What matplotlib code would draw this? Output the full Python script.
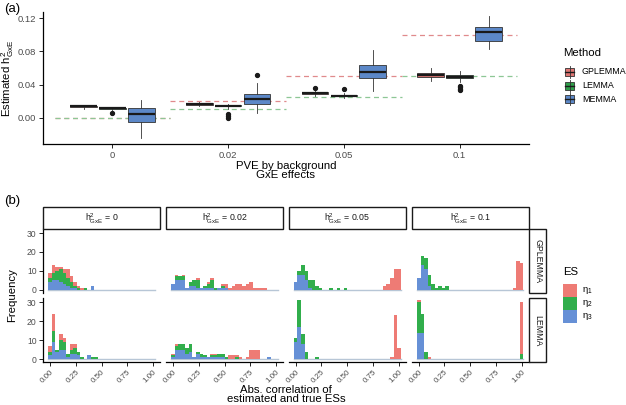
import numpy as np
import matplotlib
matplotlib.use("Agg")
import matplotlib.pyplot as plt
from matplotlib.patches import Rectangle
from matplotlib.lines import Line2D

plt.rcParams.update({
    "font.family": ["Liberation Sans", "DejaVu Sans"],
    "mathtext.fontset": "custom",
    "mathtext.rm": "Liberation Sans",
    "mathtext.it": "Liberation Sans",
    "mathtext.default": "regular",
    "font.size": 7,
})

# ---- panel (a): estimated h2 per method ----
PVE_LABELS = ["0", "0.02", "0.05", "0.1"]
METHODS = ["GPLEMMA", "LEMMA", "MEMMA"]
# (whislo, q1, median, q3, whishi) per PVE level
GPLEMMA_BOX = [(0.011, 0.0128, 0.0135, 0.0140, 0.0155),
               (0.014, 0.0155, 0.0163, 0.0172, 0.019),
               (0.026, 0.0283, 0.0295, 0.0305, 0.034),
               (0.0447, 0.049, 0.0512, 0.0535, 0.0596)]
LEMMA_BOX = [(0.0095, 0.011, 0.0117, 0.0122, 0.013),
             (0.011, 0.0135, 0.0145, 0.0155, 0.017),
             (0.024, 0.0257, 0.0266, 0.0278, 0.030),
             (0.0435, 0.0478, 0.0495, 0.051, 0.0568)]
MEMMA_BOX = [(-0.0249, -0.0048, 0.0041, 0.0113, 0.0214),
             (0.0053, 0.0165, 0.023, 0.0282, 0.0415),
             (0.0326, 0.0483, 0.0548, 0.0633, 0.0818),
             (0.0826, 0.093, 0.103, 0.109, 0.1228)]
GPLEMMA_OUT = [[], [], [0.0362], []]
LEMMA_OUT = [[0.0053], [0.005, 0.0025, 0.0], [0.035], [0.038, 0.0365, 0.035, 0.0335]]
MEMMA_OUT = [[], [0.0516], [], []]
TRUE_GPLEMMA = [0.0, 0.02, 0.05, 0.1]
TRUE_LEMMA = [0.0, 0.01, 0.025, 0.05]

# ---- panel (b): histogram counts, 30 bins over [0, 1] ----
STRIP_COLS = [r"$h^2_{GxE}$ = 0", r"$h^2_{GxE}$ = 0.02", r"$h^2_{GxE}$ = 0.05", r"$h^2_{GxE}$ = 0.1"]
STRIP_ROWS = ["GPLEMMA", "LEMMA"]
ES_LABELS = [r"$\eta_1$", r"$\eta_2$", r"$\eta_3$"]

gp_h0_eta1 = [3, 4, 2, 1, 2, 5, 3, 2, 1, 1, 0, 0, 0, 0, 0, 0, 0, 0, 0, 0, 0, 0, 0, 0, 0, 0, 0, 0, 0, 0]
gp_h0_eta2 = [2, 4, 5, 7, 6, 4, 3, 1, 1, 0, 1, 0, 0, 0, 0, 0, 0, 0, 0, 0, 0, 0, 0, 0, 0, 0, 0, 0, 0, 0]
gp_h0_eta3 = [4, 5, 5, 4, 3, 2, 1, 1, 0, 0, 0, 0, 2, 0, 0, 0, 0, 0, 0, 0, 0, 0, 0, 0, 0, 0, 0, 0, 0, 0]

le_h0_eta1 = [3, 9, 0, 3, 2, 0, 3, 2, 0, 0, 0, 0, 0, 0, 0, 0, 0, 0, 0, 0, 0, 0, 0, 0, 0, 0, 0, 0, 0, 0]
le_h0_eta2 = [2, 6, 1, 5, 4, 2, 2, 3, 2, 1, 0, 0, 1, 1, 0, 0, 0, 0, 0, 0, 0, 0, 0, 0, 0, 0, 0, 0, 0, 0]
le_h0_eta3 = [2, 9, 4, 5, 5, 1, 3, 3, 2, 0, 0, 2, 0, 0, 0, 0, 0, 0, 0, 0, 0, 0, 0, 0, 0, 0, 0, 0, 0, 0]

gp_h002_eta1 = [0, 1, 0, 1, 0, 0, 0, 1, 0, 0, 1, 1, 0, 0, 1, 2, 1, 2, 3, 3, 2, 3, 4, 1, 1, 1, 1, 0, 0, 0]
gp_h002_eta2 = [0, 2, 2, 2, 0, 2, 3, 4, 0, 1, 2, 4, 1, 0, 1, 0, 0, 0, 0, 0, 0, 0, 0, 0, 0, 0, 0, 0, 0, 0]
gp_h002_eta3 = [3, 5, 5, 5, 1, 2, 2, 1, 1, 1, 1, 1, 0, 1, 1, 1, 0, 0, 0, 0, 0, 0, 0, 0, 0, 0, 0, 0, 0, 0]

le_h002_eta1 = [1, 1, 0, 0, 0, 0, 0, 0, 0, 0, 0, 1, 1, 0, 0, 0, 2, 2, 1, 1, 0, 1, 5, 5, 5, 0, 0, 0, 0, 0]
le_h002_eta2 = [1, 2, 3, 3, 3, 4, 0, 1, 2, 1, 0, 1, 1, 2, 2, 1, 0, 0, 1, 0, 0, 0, 0, 0, 0, 0, 0, 0, 0, 0]
le_h002_eta3 = [1, 5, 5, 5, 3, 4, 1, 3, 1, 1, 1, 1, 1, 1, 1, 0, 0, 0, 0, 0, 0, 0, 0, 0, 0, 0, 0, 1, 0, 0]

gp_h005_eta1 = [0, 0, 0, 0, 0, 0, 0, 0, 0, 0, 0, 0, 0, 0, 0, 0, 0, 0, 0, 0, 0, 0, 0, 0, 0, 2, 3, 6, 11, 11]
gp_h005_eta2 = [0, 2, 5, 5, 4, 5, 2, 1, 0, 0, 1, 0, 1, 0, 1, 0, 0, 0, 0, 0, 0, 0, 0, 0, 0, 0, 0, 0, 0, 0]
gp_h005_eta3 = [4, 8, 8, 5, 1, 0, 0, 0, 0, 0, 0, 0, 0, 0, 0, 0, 0, 0, 0, 0, 0, 0, 0, 0, 0, 0, 0, 0, 0, 0]

le_h005_eta1 = [0, 0, 0, 0, 0, 0, 0, 0, 0, 0, 0, 0, 0, 0, 0, 0, 0, 0, 0, 0, 0, 0, 0, 0, 0, 0, 0, 1, 23, 6]
le_h005_eta2 = [2, 14, 5, 4, 0, 0, 1, 0, 0, 0, 0, 0, 0, 0, 0, 0, 0, 0, 0, 0, 0, 0, 0, 0, 0, 0, 0, 0, 0, 0]
le_h005_eta3 = [9, 17, 8, 0, 0, 0, 0, 0, 0, 0, 0, 0, 0, 0, 0, 0, 0, 0, 0, 0, 0, 0, 0, 0, 0, 0, 0, 0, 0, 0]

gp_h01_eta1 = [0, 0, 0, 0, 0, 0, 0, 0, 0, 0, 0, 0, 0, 0, 0, 0, 0, 0, 0, 0, 0, 0, 0, 0, 0, 0, 0, 1, 15, 14]
gp_h01_eta2 = [0, 5, 6, 6, 3, 1, 2, 1, 2, 0, 0, 0, 0, 0, 0, 0, 0, 0, 0, 0, 0, 0, 0, 0, 0, 0, 0, 0, 0, 0]
gp_h01_eta3 = [6, 13, 11, 2, 0, 0, 0, 0, 0, 0, 0, 0, 0, 0, 0, 0, 0, 0, 0, 0, 0, 0, 0, 0, 0, 0, 0, 0, 0, 0]

le_h01_eta1 = [1, 0, 0, 1, 0, 0, 0, 0, 0, 0, 0, 0, 0, 0, 0, 0, 0, 0, 0, 0, 0, 0, 0, 0, 0, 0, 0, 0, 0, 27]
le_h01_eta2 = [16, 10, 4, 0, 0, 0, 0, 0, 0, 0, 0, 0, 0, 0, 0, 0, 0, 0, 0, 0, 0, 0, 0, 0, 0, 0, 0, 0, 0, 3]
le_h01_eta3 = [14, 14, 0, 0, 0, 0, 0, 0, 0, 0, 0, 0, 0, 0, 0, 0, 0, 0, 0, 0, 0, 0, 0, 0, 0, 0, 0, 0, 0, 0]

HISTS = [
    [(gp_h0_eta1, gp_h0_eta2, gp_h0_eta3), (gp_h002_eta1, gp_h002_eta2, gp_h002_eta3),
     (gp_h005_eta1, gp_h005_eta2, gp_h005_eta3), (gp_h01_eta1, gp_h01_eta2, gp_h01_eta3)],
    [(le_h0_eta1, le_h0_eta2, le_h0_eta3), (le_h002_eta1, le_h002_eta2, le_h002_eta3),
     (le_h005_eta1, le_h005_eta2, le_h005_eta3), (le_h01_eta1, le_h01_eta2, le_h01_eta3)],
]

COLORS = ["#EE7B75", "#31AE4C", "#6690D6"]
BOX_COLORS = ["#DE7572", "#2F9E4A", "#5C88C8"]
TICK_GREY = "#4D4D4D"

W, H = 626, 405
fig = plt.figure(figsize=(W / 100, H / 100), dpi=100)


def px_axes(l, t, r, b):
    return fig.add_axes([l / W, 1 - b / H, (r - l) / W, (b - t) / H])


def fxy(x, y):
    return x / W, 1 - y / H


# ================= panel (a) =================
ax = px_axes(43, 12, 529, 144)
pos = np.arange(1, len(PVE_LABELS) + 1)
for i, p in enumerate(pos):
    ax.hlines(TRUE_GPLEMMA[i], p - 0.5, p + 0.5, colors="#E08A8C", linestyles=(0, (4, 3)), lw=0.9, zorder=1)
    ax.hlines(TRUE_LEMMA[i], p - 0.5, p + 0.5, colors="#8DC795", linestyles=(0, (4, 3)), lw=0.9, zorder=1)

boxes = [GPLEMMA_BOX, LEMMA_BOX, MEMMA_BOX]
outs = [GPLEMMA_OUT, LEMMA_OUT, MEMMA_OUT]
for k, (bx, ou) in enumerate(zip(boxes, outs)):
    stats = []
    for (lo, q1, med, q3, hi), fl in zip(bx, ou):
        stats.append(dict(whislo=lo, q1=q1, med=med, q3=q3, whishi=hi, fliers=np.array(fl)))
    ax.bxp(stats, positions=pos + (k - 1) * 0.25, widths=0.23, patch_artist=True,
           showcaps=False, manage_ticks=False,
           boxprops=dict(facecolor=BOX_COLORS[k], edgecolor="#333333", lw=0.6),
           medianprops=dict(color="#1A1A1A", lw=1.6),
           whiskerprops=dict(color="#333333", lw=0.6),
           flierprops=dict(marker="o", markersize=2.8, markerfacecolor="#1A1A1A",
                           markeredgecolor="#1A1A1A"))

ax.set_xlim(0.4, 4.6)
ax.set_ylim(-0.0318, 0.1276)
ax.set_xticks(pos)
ax.set_xticklabels(PVE_LABELS)
ax.set_yticks([0, 0.04, 0.08, 0.12])
ax.set_yticklabels(["0.00", "0.04", "0.08", "0.12"])
for s in ["top", "right"]:
    ax.spines[s].set_visible(False)
for s in ["left", "bottom"]:
    ax.spines[s].set_linewidth(0.9)
ax.tick_params(labelsize=6.8, labelcolor=TICK_GREY, length=3, width=0.6, pad=2)

fig.text(*fxy(286, 170.5), "PVE by background\nGxE effects", ha="center", va="center",
         fontsize=8.2, linespacing=0.95)
fig.text(*fxy(8, 78), r"Estimated $h^2_{GxE}$", ha="center", va="center", rotation=90, fontsize=8.2)
fig.text(*fxy(4, 9), "(a)", ha="left", va="center", fontsize=9.5)

# legend (a)
fig.text(*fxy(563, 53), "Method", ha="left", va="center", fontsize=8.2)
for k, (name, yc) in enumerate(zip(METHODS, [72, 85.5, 99])):
    x0, y0 = fxy(565, yc + 4)
    w, h = 9 / W, 8 / H
    fig.add_artist(Line2D([x0 + w / 2, x0 + w / 2], [y0 - 2 / H, y0 + h + 2 / H],
                          color="#333333", lw=0.6, transform=fig.transFigure))
    fig.add_artist(Rectangle((x0, y0), w, h, facecolor=BOX_COLORS[k], edgecolor="#333333",
                             lw=0.6, transform=fig.transFigure))
    fig.add_artist(Line2D([x0, x0 + w], [y0 + h / 2, y0 + h / 2], color="#1A1A1A", lw=1.0,
                          transform=fig.transFigure))
    fig.text(*fxy(582, yc), name, ha="left", va="center", fontsize=6.4)

# ================= panel (b) =================
cols = [(43, 160), (165.7, 283.3), (288.5, 406), (411.7, 528.7)]
rows = [(229.3, 292.7), (298.3, 362.3)]
nb = 30
centers = np.arange(nb) / (nb - 1)
bw = 1 / (nb - 1)

for r, (t, b) in enumerate(rows):
    for c, (l, rr) in enumerate(cols):
        a = px_axes(l, t, rr, b)
        eta1, eta2, eta3 = [np.array(v) for v in HISTS[r][c]]
        a.plot([centers[0] - bw / 2, centers[-1] + bw / 2], [0, 0], color="#B7C6D6", lw=1, zorder=1)
        a.bar(centers, eta3, width=bw, color=COLORS[2], lw=0, zorder=2)
        a.bar(centers, eta2, width=bw, bottom=eta3, color=COLORS[1], lw=0, zorder=2)
        a.bar(centers, eta1, width=bw, bottom=eta3 + eta2, color=COLORS[0], lw=0, zorder=2)
        a.set_xlim(-0.069, 1.069)
        a.set_ylim(-1.6, 32)
        a.spines["top"].set_visible(False)
        a.spines["right"].set_visible(False)
        a.set_xticks([0, 0.25, 0.5, 0.75, 1.0])
        a.set_yticks([0, 10, 20, 30])
        a.tick_params(labelsize=6.2, labelcolor=TICK_GREY, length=3, width=0.6, pad=1.5)
        if c == 0:
            a.spines["left"].set_linewidth(0.9)
        else:
            a.spines["left"].set_visible(False)
            a.tick_params(axis="y", left=False, labelleft=False)
        if r == 1:
            a.spines["bottom"].set_linewidth(0.9)
            a.set_xticklabels(["0.00", "0.25", "0.50", "0.75", "1.00"], rotation=45,
                              ha="right", rotation_mode="anchor", fontsize=5.8)
        else:
            a.spines["bottom"].set_visible(False)
            a.tick_params(axis="x", bottom=False, labelbottom=False)

# strips
for c, (l, rr) in enumerate(cols):
    x0, y0 = fxy(l, 229.3)
    fig.add_artist(Rectangle((x0, y0), (rr - l) / W, 22 / H, facecolor="white", edgecolor="#1A1A1A",
                             lw=1.0, transform=fig.transFigure))
    fig.text(*fxy((l + rr) / 2, 218.5), STRIP_COLS[c], ha="center", va="center", fontsize=6.3,
             color="#1A1A1A")
for r, (t, b) in enumerate(rows):
    x0, y0 = fxy(528.7, b)
    fig.add_artist(Rectangle((x0, y0), 17.3 / W, (b - t) / H, facecolor="white", edgecolor="#1A1A1A",
                             lw=1.0, transform=fig.transFigure))
    fig.text(*fxy(537.5, (t + b) / 2), STRIP_ROWS[r], ha="center", va="center", rotation=-90,
             fontsize=6.3, color="#1A1A1A")

fig.text(*fxy(286, 394.5), "Abs. correlation of\nestimated and true ESs", ha="center", va="center",
         fontsize=8.2, linespacing=0.95)
fig.text(*fxy(12, 295), "Frequency", ha="center", va="center", rotation=90, fontsize=8.2)
fig.text(*fxy(4, 201), "(b)", ha="left", va="center", fontsize=9.5)

# legend (b)
fig.text(*fxy(563, 272), "ES", ha="left", va="center", fontsize=8.2)
for k, yt in enumerate([284, 297, 310]):
    x0, y0 = fxy(563, yt + 13)
    fig.add_artist(Rectangle((x0, y0), 14 / W, 13 / H, facecolor=COLORS[k], lw=0,
                             transform=fig.transFigure))
    fig.text(*fxy(582, yt + 6.5), ES_LABELS[k], ha="left", va="center", fontsize=6.8)

fig.savefig("out.png", dpi=100)
